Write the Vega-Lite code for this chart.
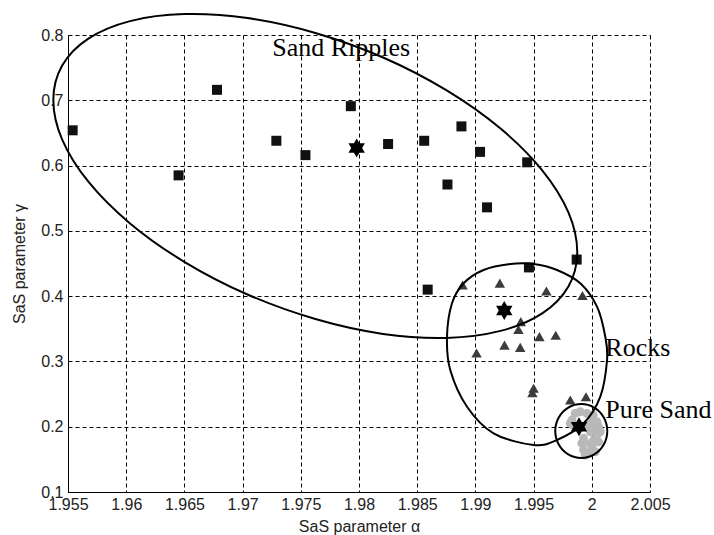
{
  "$schema": "https://vega.github.io/schema/vega-lite/v6.json",
  "width": 582,
  "height": 457,
  "autosize": {"type": "none"},
  "padding": {"left": 68, "top": 35, "right": 64, "bottom": 43},
  "background": "white",
  "config": {
    "view": {"stroke": null},
    "axis": {
      "grid": true,
      "gridColor": "#000000",
      "gridDash": [4, 3],
      "gridWidth": 1,
      "gridOpacity": 1,
      "domainColor": "#000000",
      "domainWidth": 1,
      "ticks": false,
      "labelFont": "Liberation Sans",
      "labelFontSize": 16,
      "labelColor": "#222222",
      "titleFont": "Liberation Sans",
      "titleFontSize": 16,
      "titleFontWeight": "normal",
      "titleColor": "#222222"
    }
  },
  "datasets": {
    "pts": [
      {"a": 1.9554, "g": 0.654, "cls": "Sand Ripples"},
      {"a": 1.9645, "g": 0.585, "cls": "Sand Ripples"},
      {"a": 1.9678, "g": 0.716, "cls": "Sand Ripples"},
      {"a": 1.9729, "g": 0.638, "cls": "Sand Ripples"},
      {"a": 1.9754, "g": 0.616, "cls": "Sand Ripples"},
      {"a": 1.9793, "g": 0.691, "cls": "Sand Ripples"},
      {"a": 1.9825, "g": 0.633, "cls": "Sand Ripples"},
      {"a": 1.9856, "g": 0.638, "cls": "Sand Ripples"},
      {"a": 1.9888, "g": 0.660, "cls": "Sand Ripples"},
      {"a": 1.9904, "g": 0.621, "cls": "Sand Ripples"},
      {"a": 1.99445, "g": 0.605, "cls": "Sand Ripples"},
      {"a": 1.9876, "g": 0.571, "cls": "Sand Ripples"},
      {"a": 1.991, "g": 0.536, "cls": "Sand Ripples"},
      {"a": 1.9987, "g": 0.456, "cls": "Sand Ripples"},
      {"a": 1.9946, "g": 0.444, "cls": "Sand Ripples"},
      {"a": 1.9859, "g": 0.410, "cls": "Sand Ripples"},
      {"a": 1.9889, "g": 0.417, "cls": "Rocks"},
      {"a": 1.9921, "g": 0.420, "cls": "Rocks"},
      {"a": 1.9961, "g": 0.408, "cls": "Rocks"},
      {"a": 1.9992, "g": 0.401, "cls": "Rocks"},
      {"a": 1.9939, "g": 0.361, "cls": "Rocks"},
      {"a": 1.9937, "g": 0.349, "cls": "Rocks"},
      {"a": 1.9955, "g": 0.338, "cls": "Rocks"},
      {"a": 1.9969, "g": 0.340, "cls": "Rocks"},
      {"a": 1.9925, "g": 0.325, "cls": "Rocks"},
      {"a": 1.99385, "g": 0.3215, "cls": "Rocks"},
      {"a": 1.9901, "g": 0.313, "cls": "Rocks"},
      {"a": 1.995, "g": 0.259, "cls": "Rocks"},
      {"a": 1.9949, "g": 0.252, "cls": "Rocks"},
      {"a": 1.99815, "g": 0.241, "cls": "Rocks"},
      {"a": 1.9995, "g": 0.246, "cls": "Rocks"},
      {"a": 1.99829, "g": 0.2102, "cls": "Pure Sand"},
      {"a": 1.99858, "g": 0.2204, "cls": "Pure Sand"},
      {"a": 1.99901, "g": 0.2229, "cls": "Pure Sand"},
      {"a": 1.99958, "g": 0.2204, "cls": "Pure Sand"},
      {"a": 2.00012, "g": 0.2178, "cls": "Pure Sand"},
      {"a": 2.00044, "g": 0.2076, "cls": "Pure Sand"},
      {"a": 2.00058, "g": 0.1999, "cls": "Pure Sand"},
      {"a": 2.00073, "g": 0.1923, "cls": "Pure Sand"},
      {"a": 2.00044, "g": 0.1872, "cls": "Pure Sand"},
      {"a": 2.00015, "g": 0.1795, "cls": "Pure Sand"},
      {"a": 2.00001, "g": 0.1693, "cls": "Pure Sand"},
      {"a": 1.99972, "g": 0.1592, "cls": "Pure Sand"},
      {"a": 1.99944, "g": 0.1566, "cls": "Pure Sand"},
      {"a": 1.99929, "g": 0.1642, "cls": "Pure Sand"},
      {"a": 1.99915, "g": 0.1745, "cls": "Pure Sand"},
      {"a": 1.99929, "g": 0.1822, "cls": "Pure Sand"},
      {"a": 1.99987, "g": 0.1923, "cls": "Pure Sand"},
      {"a": 1.99958, "g": 0.2025, "cls": "Pure Sand"},
      {"a": 1.99843, "g": 0.2025, "cls": "Pure Sand"},
      {"a": 1.99815, "g": 0.2051, "cls": "Pure Sand"},
      {"a": 2.00001, "g": 0.2076, "cls": "Pure Sand"},
      {"a": 2.0003, "g": 0.1616, "cls": "Pure Sand"},
      {"a": 2.00058, "g": 0.1769, "cls": "Pure Sand"},
      {"a": 1.99985, "g": 0.1740, "cls": "Pure Sand"},
      {"a": 2.00020, "g": 0.1990, "cls": "Pure Sand"},
      {"a": 1.99890, "g": 0.2000, "cls": "Pure Sand"},
      {"a": 1.9798, "g": 0.627, "cls": "Centre"},
      {"a": 1.99248, "g": 0.378, "cls": "Centre"},
      {"a": 1.9989, "g": 0.200, "cls": "Centre"}
    ],
    "ell": [
      {"ring": "Sand Ripples", "o": 1, "a": 1.99875, "g": 0.46747},
      {"ring": "Sand Ripples", "o": 2, "a": 1.99799, "g": 0.41478},
      {"ring": "Sand Ripples", "o": 3, "a": 1.99574, "g": 0.37357},
      {"ring": "Sand Ripples", "o": 4, "a": 1.99216, "g": 0.34677},
      {"ring": "Sand Ripples", "o": 5, "a": 1.98750, "g": 0.33605},
      {"ring": "Sand Ripples", "o": 6, "a": 1.98207, "g": 0.34217},
      {"ring": "Sand Ripples", "o": 7, "a": 1.97625, "g": 0.36500},
      {"ring": "Sand Ripples", "o": 8, "a": 1.97042, "g": 0.40252},
      {"ring": "Sand Ripples", "o": 9, "a": 1.96499, "g": 0.45261},
      {"ring": "Sand Ripples", "o": 10, "a": 1.96033, "g": 0.51143},
      {"ring": "Sand Ripples", "o": 11, "a": 1.95675, "g": 0.57530},
      {"ring": "Sand Ripples", "o": 12, "a": 1.95450, "g": 0.63978},
      {"ring": "Sand Ripples", "o": 13, "a": 1.95374, "g": 0.70059},
      {"ring": "Sand Ripples", "o": 14, "a": 1.95450, "g": 0.75328},
      {"ring": "Sand Ripples", "o": 15, "a": 1.95675, "g": 0.79449},
      {"ring": "Sand Ripples", "o": 16, "a": 1.96033, "g": 0.82129},
      {"ring": "Sand Ripples", "o": 17, "a": 1.96499, "g": 0.83201},
      {"ring": "Sand Ripples", "o": 18, "a": 1.97042, "g": 0.82589},
      {"ring": "Sand Ripples", "o": 19, "a": 1.97625, "g": 0.80306},
      {"ring": "Sand Ripples", "o": 20, "a": 1.98207, "g": 0.76554},
      {"ring": "Sand Ripples", "o": 21, "a": 1.98750, "g": 0.71545},
      {"ring": "Sand Ripples", "o": 22, "a": 1.99216, "g": 0.65663},
      {"ring": "Sand Ripples", "o": 23, "a": 1.99574, "g": 0.59276},
      {"ring": "Sand Ripples", "o": 24, "a": 1.99799, "g": 0.52828},
      {"ring": "Rocks", "o": 1, "a": 1.99300, "g": 0.44924},
      {"ring": "Rocks", "o": 2, "a": 1.99500, "g": 0.44924},
      {"ring": "Rocks", "o": 3, "a": 1.99701, "g": 0.44005},
      {"ring": "Rocks", "o": 4, "a": 1.99901, "g": 0.41968},
      {"ring": "Rocks", "o": 5, "a": 2.00045, "g": 0.38384},
      {"ring": "Rocks", "o": 6, "a": 2.00116, "g": 0.33789},
      {"ring": "Rocks", "o": 7, "a": 2.00131, "g": 0.30220},
      {"ring": "Rocks", "o": 8, "a": 2.00073, "g": 0.24598},
      {"ring": "Rocks", "o": 9, "a": 1.99930, "g": 0.20524},
      {"ring": "Rocks", "o": 10, "a": 1.99701, "g": 0.17966},
      {"ring": "Rocks", "o": 11, "a": 1.99500, "g": 0.17200},
      {"ring": "Rocks", "o": 12, "a": 1.99156, "g": 0.18992},
      {"ring": "Rocks", "o": 13, "a": 1.98928, "g": 0.23067},
      {"ring": "Rocks", "o": 14, "a": 1.98784, "g": 0.28688},
      {"ring": "Rocks", "o": 15, "a": 1.98756, "g": 0.33789},
      {"ring": "Rocks", "o": 16, "a": 1.98799, "g": 0.38904},
      {"ring": "Rocks", "o": 17, "a": 1.98899, "g": 0.41968},
      {"ring": "Rocks", "o": 18, "a": 1.99070, "g": 0.44005},
      {"ring": "Pure Sand", "o": 1, "a": 2.00133, "g": 0.19345},
      {"ring": "Pure Sand", "o": 2, "a": 2.00103, "g": 0.21412},
      {"ring": "Pure Sand", "o": 3, "a": 2.00021, "g": 0.22929},
      {"ring": "Pure Sand", "o": 4, "a": 1.99910, "g": 0.23480},
      {"ring": "Pure Sand", "o": 5, "a": 1.99798, "g": 0.22929},
      {"ring": "Pure Sand", "o": 6, "a": 1.99716, "g": 0.21412},
      {"ring": "Pure Sand", "o": 7, "a": 1.99686, "g": 0.19345},
      {"ring": "Pure Sand", "o": 8, "a": 1.99716, "g": 0.17277},
      {"ring": "Pure Sand", "o": 9, "a": 1.99798, "g": 0.15760},
      {"ring": "Pure Sand", "o": 10, "a": 1.99910, "g": 0.15209},
      {"ring": "Pure Sand", "o": 11, "a": 2.00021, "g": 0.15760},
      {"ring": "Pure Sand", "o": 12, "a": 2.00103, "g": 0.17277}
    ],
    "labels": [
      {"a": 1.97255, "g": 0.7678, "text": "Sand Ripples"},
      {"a": 2.00116, "g": 0.3083, "text": "Rocks"},
      {"a": 2.00116, "g": 0.2129, "text": "Pure Sand"}
    ]
  },
  "encoding": {
    "x": {
      "field": "a",
      "type": "quantitative",
      "scale": {"domain": [1.955, 2.005], "nice": false, "zero": false},
      "axis": {
        "title": "SaS parameter α",
        "values": [1.955, 1.96, 1.965, 1.97, 1.975, 1.98, 1.985, 1.99, 1.995, 2, 2.005],
        "format": "~g",
        "labelPadding": 4,
        "titlePadding": 6,
        "labelFlush": false,
        "labelOverlap": false
      }
    },
    "y": {
      "field": "g",
      "type": "quantitative",
      "scale": {"domain": [0.1, 0.8], "nice": false, "zero": false},
      "axis": {
        "title": "SaS parameter γ",
        "values": [0.1, 0.2, 0.3, 0.4, 0.5, 0.6, 0.7, 0.8],
        "format": "~g",
        "labelPadding": 5,
        "titlePadding": 13,
        "labelFlush": false,
        "labelOverlap": false
      }
    }
  },
  "layer": [
    {
      "data": {"name": "pts"},
      "transform": [{"filter": "datum.cls === 'Pure Sand'"}],
      "mark": {"type": "point", "shape": "circle", "filled": true, "size": 80, "color": "#b8b8b8", "opacity": 1, "strokeWidth": 0}
    },
    {
      "data": {"name": "pts"},
      "transform": [{"filter": "datum.cls === 'Sand Ripples'"}],
      "mark": {"type": "point", "shape": "square", "filled": true, "size": 100, "color": "#111111", "opacity": 1}
    },
    {
      "data": {"name": "pts"},
      "transform": [{"filter": "datum.cls === 'Rocks'"}],
      "mark": {"type": "point", "shape": "triangle-up", "filled": true, "size": 110, "color": "#3c3c3c", "opacity": 1}
    },
    {
      "data": {"name": "ell"},
      "mark": {"type": "line", "interpolate": "cardinal-closed", "color": "#000000", "strokeWidth": 2},
      "encoding": {
        "detail": {"field": "ring"},
        "order": {"field": "o", "type": "quantitative"}
      }
    },
    {
      "data": {"name": "pts"},
      "transform": [{"filter": "datum.cls === 'Centre'"}],
      "mark": {"type": "point", "shape": "M0,-1L0.2887,-0.5L0.866,-0.5L0.5774,0L0.866,0.5L0.2887,0.5L0,1L-0.2887,0.5L-0.866,0.5L-0.5774,0L-0.866,-0.5L-0.2887,-0.5Z", "filled": true, "size": 360, "color": "#000000", "opacity": 1}
    },
    {
      "data": {"name": "labels"},
      "mark": {"type": "text", "font": "Liberation Serif", "fontSize": 26, "align": "left", "baseline": "alphabetic", "color": "#000000"},
      "encoding": {"text": {"field": "text"}}
    }
  ]
}
